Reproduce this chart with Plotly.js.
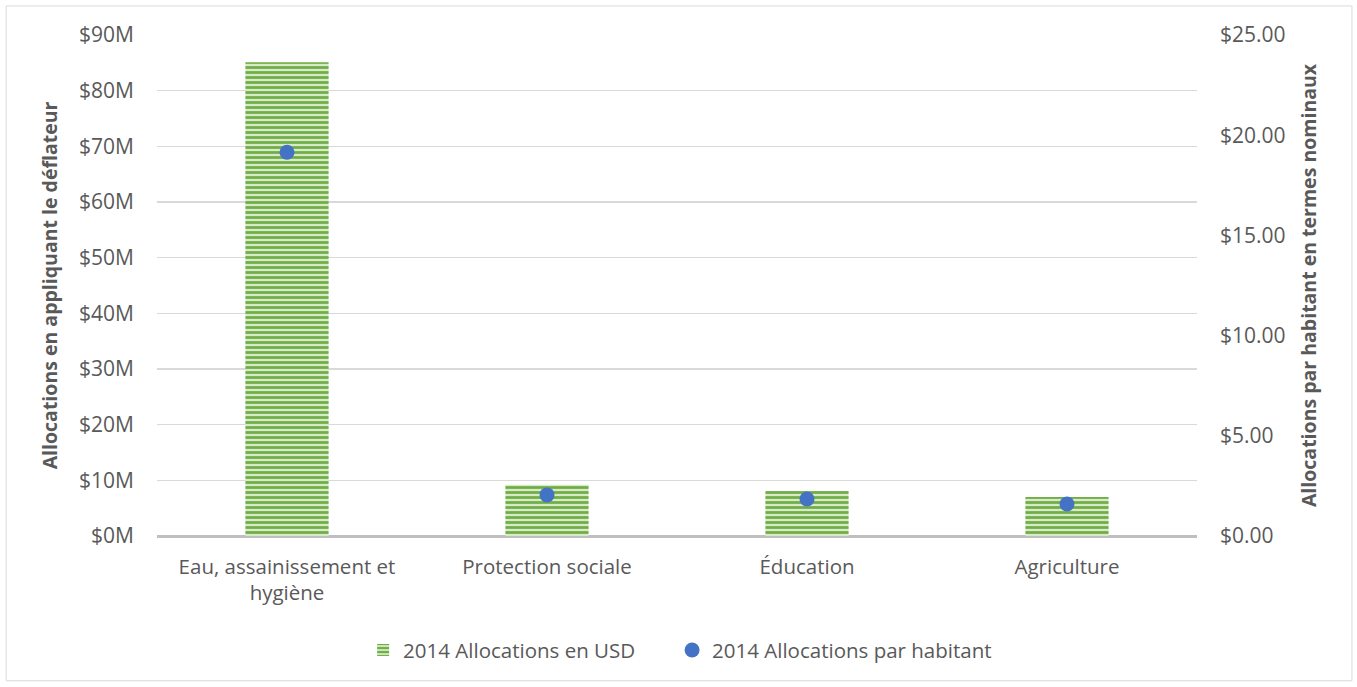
<!DOCTYPE html>
<html>
<head>
<meta charset="utf-8">
<script src="https://cdn.plot.ly/plotly-3.0.1.min.js"></script>
<style>
html,body{margin:0;padding:0;background:#fff;}
#chart{width:1357px;height:687px;}
</style>
</head>
<body>
<div id="chart"></div>
<script>
const categories = ["Eau, assainissement et<br>hygiène", "Protection sociale", "Éducation", "Agriculture"];
const allocationsUSD = [85.1, 9.2, 8.1, 7.0]; // millions USD
const allocationsPerCapita = [19.15, 2.05, 1.85, 1.6]; // USD
const leftTicks = [0,10,20,30,40,50,60,70,80,90];
const leftTickLabels = leftTicks.map(v => "$" + v + "M");
const rightTicks = [0,5,10,15,20,25];
const rightTickLabels = rightTicks.map(v => "$" + v.toFixed(2));

const font = "'Open Sans', sans-serif";
const gray = "#595959";
const pad = "\u00a0\u00a0\u00a0\u00a0\u00a0\u00a0";

const traces = [
  {
    type: "bar",
    name: "2014 Allocations en USD" + pad,
    x: categories,
    y: allocationsUSD,
    width: 0.32,
    marker: {
      color: "#c9e3b6",
      line: {width: 0},
      pattern: {shape: "-", fgcolor: "#70AD47", bgcolor: "#d7ebc8", size: 5, solidity: 0.55, fillmode: "replace"}
    },
    yaxis: "y"
  },
  {
    type: "scatter",
    mode: "markers",
    name: "2014 Allocations par habitant",
    x: categories,
    y: allocationsPerCapita,
    marker: {color: "#4472C4", size: 15},
    yaxis: "y2"
  }
];

const layout = {
  width: 1357, height: 687,
  margin: {l: 157, r: 160, t: 35, b: 151},
  paper_bgcolor: "#fff",
  plot_bgcolor: "#fff",
  font: {family: font, color: gray, size: 21},
  showlegend: true,
  legend: {orientation: "h", x: 0.503, xanchor: "center", y: -0.228, yanchor: "middle", font: {size: 20.5, color: gray}, itemwidth: 30, traceorder: "normal"},
  xaxis: {
    showgrid: false, showline: false, zeroline: false,
    tickfont: {size: 20.5, color: gray}, ticks: "", ticklabelstandoff: 16
  },
  yaxis: {
    range: [0, 90], tickvals: leftTicks, ticktext: leftTickLabels,
    showgrid: true, gridcolor: "#d9d9d9", gridwidth: 1.5,
    zeroline: true, zerolinecolor: "#bfbfbf", zerolinewidth: 3,
    ticks: "", ticklabelstandoff: 22,
    tickfont: {size: 21, color: gray},
    title: {text: "Allocations en appliquant le déflateur", font: {size: 19.5, color: gray, weight: "bold"}, standoff: 16}
  },
  yaxis2: {
    range: [0, 25], tickvals: rightTicks, ticktext: rightTickLabels,
    overlaying: "y", side: "right", showgrid: false, zeroline: false,
    ticks: "", ticklabelstandoff: 22,
    tickfont: {size: 21, color: gray},
    title: {text: "Allocations par habitant en termes nominaux", font: {size: 19.5, color: gray, weight: "bold"}, standoff: 17}
  },
  shapes: [
    {type: "rect", xref: "paper", yref: "paper", x0: -0.145, x1: 1.149, y0: -0.289, y1: 1.058,
     line: {color: "#d9d9d9", width: 1}, fillcolor: "rgba(0,0,0,0)", layer: "below"}
  ]
};

Plotly.newPlot("chart", traces, layout, {displayModeBar: false, staticPlot: true});
</script>
</body>
</html>
